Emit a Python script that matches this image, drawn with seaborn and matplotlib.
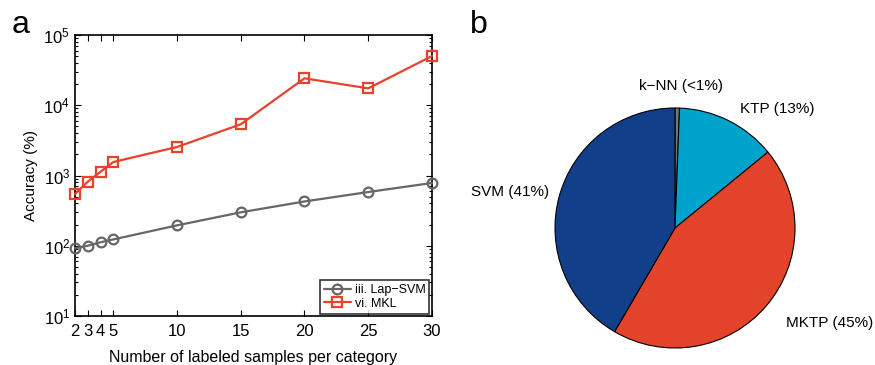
import numpy as np
import pandas as pd
import seaborn as sns
import matplotlib.pyplot as plt
from matplotlib.ticker import LogLocator, NullFormatter

# data
samples = [2, 3, 4, 5, 10, 15, 20, 25, 30]
lap_svm = [92, 100, 112, 123, 195, 299, 427, 582, 783]
mkl = [546, 816, 1130, 1556, 2546, 5360, 24170, 17400, 50200]
series_names = ['iii. Lap\u2212SVM', 'vi. MKL']

pie_labels = ['k\u2212NN (<1%)', 'KTP (13%)', 'MKTP (45%)', 'SVM (41%)']
pie_shares = [0.6, 13.5, 44.3, 41.6]

# colours / styles
line_colors = {'iii. Lap\u2212SVM': '#666666', 'vi. MKL': '#e8412c'}
line_markers = {'iii. Lap\u2212SVM': 'o', 'vi. MKL': 's'}
pie_colors = ['#777777', '#00a3cb', '#e3432a', '#123f8a']

sns.set_style('ticks')
plt.rcParams['font.family'] = ['Liberation Sans', 'DejaVu Sans']
plt.rcParams['font.size'] = 11
plt.rcParams['text.color'] = 'black'
plt.rcParams['axes.labelcolor'] = 'black'
plt.rcParams['xtick.color'] = 'black'
plt.rcParams['ytick.color'] = 'black'
plt.rcParams['mathtext.fontset'] = 'custom'
plt.rcParams['mathtext.rm'] = 'Liberation Sans'
plt.rcParams['mathtext.it'] = 'Liberation Sans:italic'

df = pd.DataFrame({
    'samples': samples * 2,
    'value': lap_svm + mkl,
    'method': [series_names[0]] * len(samples) + [series_names[1]] * len(samples),
})

fig = plt.figure(figsize=(8.75, 3.65), dpi=100)

# panel a
ax = fig.add_axes([75 / 875, 1 - 316 / 365, 357 / 875, 281 / 365])
sns.lineplot(data=df, x='samples', y='value', hue='method', style='method',
             palette=line_colors, markers=line_markers, dashes=False,
             linewidth=1.6, markersize=7, markerfacecolor='none',
             markeredgewidth=1.6, ax=ax)
for line, name in zip(ax.lines, series_names):
    line.set_markeredgecolor(line_colors[name])
    line.set_clip_on(False)
    line.set_zorder(5)
ax.set_yscale('log')
ax.set_ylim(10, 1e5)
ax.set_xlim(2, 30)
ax.set_xticks(samples)
ax.set_xticklabels([str(s) for s in samples])
ax.yaxis.set_minor_locator(LogLocator(base=10, subs=np.arange(2, 10)))
ax.yaxis.set_minor_formatter(NullFormatter())
ax.tick_params(which='both', direction='in', top=True, right=True,
               labelsize=12, width=0.8, colors='black')
ax.tick_params(which='major', length=4)
ax.tick_params(which='minor', length=2)
ax.tick_params(axis='x', pad=6)
for s in ax.spines.values():
    s.set_linewidth(1.2)
    s.set_color('black')
ax.set_xlabel('Number of labeled samples per category', fontsize=11.5, labelpad=8)
ax.set_ylabel('Accuracy (%)', fontsize=11)

handles, labels = ax.get_legend_handles_labels()
for h, name in zip(handles, labels):
    h.set_markerfacecolor('none')
    h.set_markeredgecolor(line_colors[name])
leg = ax.legend(handles, labels, loc='lower right', fontsize=9,
                frameon=True, fancybox=False, borderpad=0.3,
                handlelength=2.2, handletextpad=0.3, labelspacing=0.15,
                borderaxespad=0.2)
leg.get_frame().set_edgecolor('black')
leg.get_frame().set_linewidth(1.2)
leg.set_zorder(6)

fig.text(12 / 875, 1 - 33 / 365, 'a', fontsize=23, ha='left', va='baseline')

# panel b
axp = fig.add_axes([555 / 875, 1 - 348 / 365, 240 / 875, 240 / 365])
axp.pie(pie_shares, colors=pie_colors, startangle=90, counterclock=False,
        radius=1.0, wedgeprops=dict(edgecolor='black', linewidth=0.8))
axp.set_xlim(-1, 1)
axp.set_ylim(-1, 1)
axp.set_aspect('equal')
axp.axis('off')

label_pos = [(681, 86), (777, 109), (830, 323), (510, 192)]
for text, (px, py) in zip(pie_labels, label_pos):
    fig.text(px / 875, 1 - py / 365, text, fontsize=11, ha='center', va='center')

fig.text(470 / 875, 1 - 33 / 365, 'b', fontsize=23, ha='left', va='baseline')

plt.savefig('out.png', dpi=100)
